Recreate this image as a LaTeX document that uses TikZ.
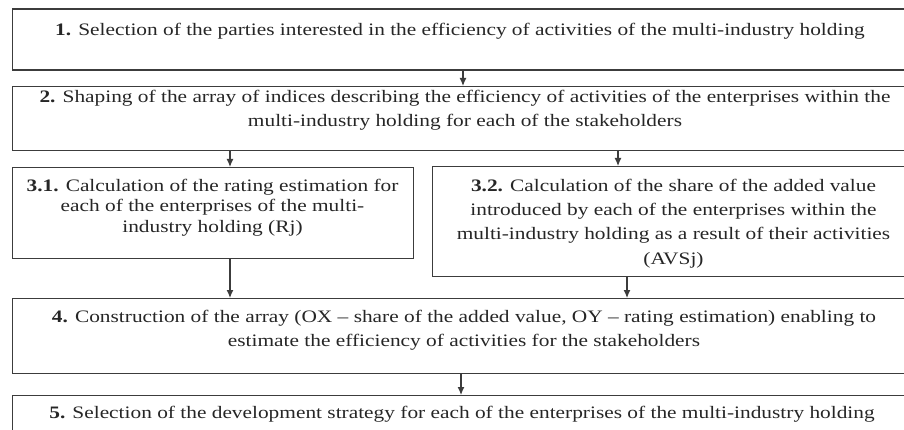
\documentclass[tikz,border=0pt]{standalone}
\usepackage{fontspec}
\setmainfont[FakeStretch=1.22]{Liberation Serif}
\usetikzlibrary{arrows.meta}
\definecolor{ink}{HTML}{262626}
\definecolor{edge}{HTML}{3C3C3C}
\begin{document}
\begin{tikzpicture}[x=1pt,y=1pt,
  box/.style={draw=edge, line width=1.4pt, rectangle, inner sep=0pt, anchor=north west},
  txt/.style={text=ink, align=center, inner sep=0pt, font=\fontsize{17.5}{24}\selectfont},
  arr/.style={draw=edge, line width=1.2pt, -{Latex[length=8pt,width=7pt]}}]
\useasboundingbox (0,0) rectangle (904,-430);
\fill[white] (0,0) rectangle (904,-430);
\begin{scope}
\clip (0,0) rectangle (904,-430);
% boxes
\node[box, minimum width=900pt, minimum height=61pt] (b1) at (12,-8.5) {};
\node[box, minimum width=900pt, minimum height=64pt] (b2) at (12,-86) {};
\node[box, minimum width=401pt, minimum height=91pt] (b31) at (12,-167) {};
\node[box, minimum width=480pt, minimum height=110pt] (b32) at (432,-166) {};
\node[box, minimum width=900pt, minimum height=75pt] (b4) at (12,-298) {};
\node[box, minimum width=900pt, minimum height=60pt] (b5) at (12,-395) {};
% texts
\node[txt] (t1) at (460,-31) {\textbf{1.} Selection of the parties interested in the efficiency of activities of the multi-industry holding};
\node[txt] (t2) at (465,-110) {\textbf{2.} Shaping of the array of indices describing the efficiency of activities of the enterprises within the\\multi-industry holding for each of the stakeholders};
\node[txt, font=\fontsize{17.5}{20.5}\selectfont] (t31) at (212.5,-207.5) {\textbf{3.1.} Calculation of the rating estimation for\\each of the enterprises of the multi-\\industry holding (Rj)};
\node[txt, font=\fontsize{17.5}{24.3}\selectfont] (t32) at (673.5,-223.5) {\textbf{3.2.} Calculation of the share of the added value\\introduced by each of the enterprises within the\\multi-industry holding as a result of their activities\\(AVSj)};
\node[txt] (t4) at (464,-330) {\textbf{4.} Construction of the array (OX -- share of the added value, OY -- rating estimation) enabling to\\estimate the efficiency of activities for the stakeholders};
\node[txt] (t5) at (462,-414) {\textbf{5.} Selection of the development strategy for each of the enterprises of the multi-industry holding};
\end{scope}
% connector columns
\coordinate (x12) at (463,0);
\coordinate (x231) at (230,0);
\coordinate (x232) at (618,0);
\coordinate (x314) at (230,0);
\coordinate (x324) at (627,0);
\coordinate (x45) at (461,0);
\draw[arr] (b1.south -| x12) -- (b2.north -| x12);
\draw[arr] (b2.south -| x231) -- (b31.north -| x231);
\draw[arr] (b2.south -| x232) -- (b32.north -| x232);
\draw[arr] (b31.south -| x314) -- (b4.north -| x314);
\draw[arr] (b32.south -| x324) -- (b4.north -| x324);
\draw[arr] (b4.south -| x45) -- (b5.north -| x45);
\end{tikzpicture}
\end{document}
